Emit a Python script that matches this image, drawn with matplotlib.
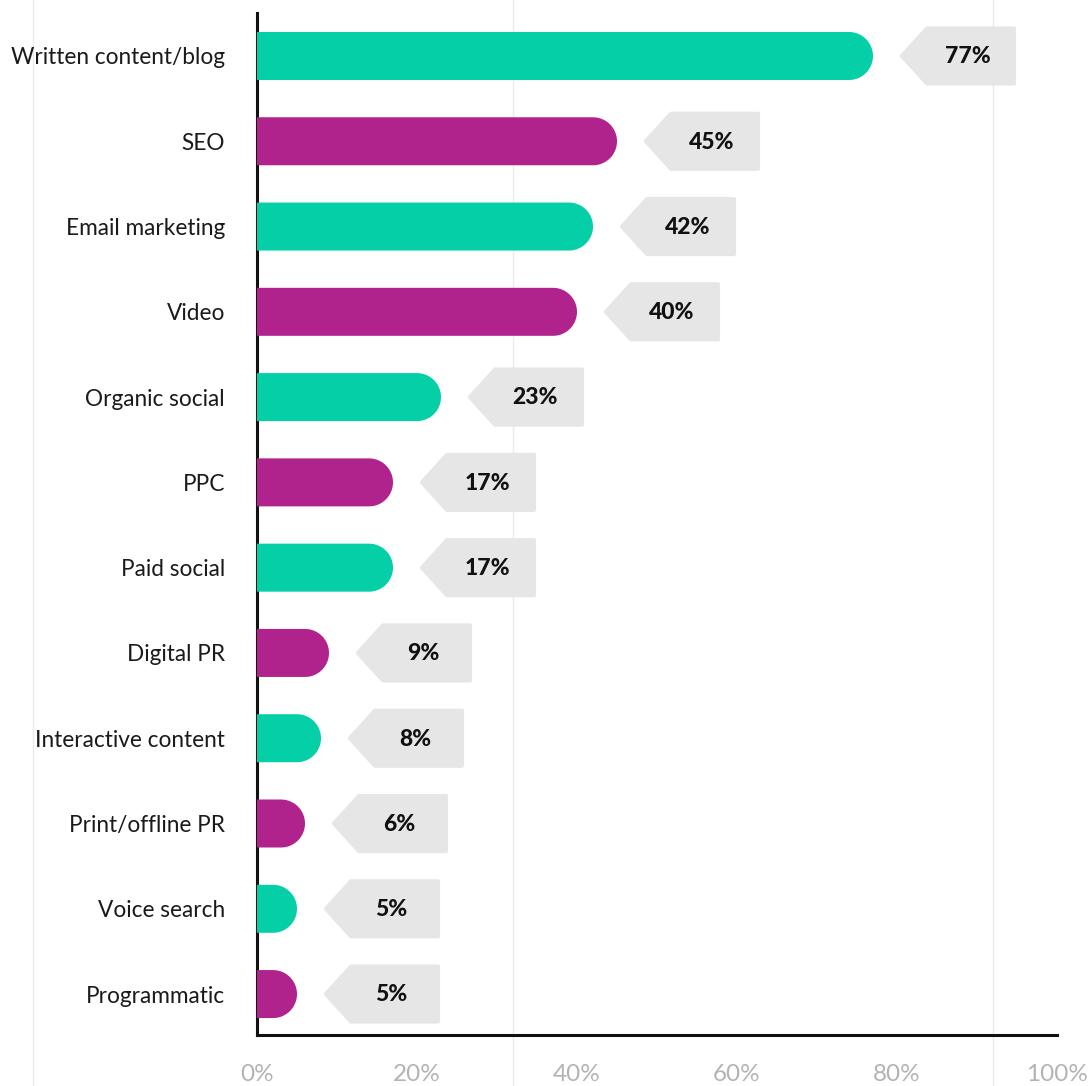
import numpy as np
import matplotlib
matplotlib.use("Agg")
import matplotlib.pyplot as plt
from matplotlib.patches import Polygon

categories = ["Written content/blog", "SEO", "Email marketing", "Video",
              "Organic social", "PPC", "Paid social", "Digital PR",
              "Interactive content", "Print/offline PR", "Voice search",
              "Programmatic"]
values = [77, 45, 42, 40, 23, 17, 17, 9, 8, 6, 5, 5]
tick_values = [0, 20, 40, 60, 80, 100]
tick_labels = ["0%", "20%", "40%", "60%", "80%", "100%"]

TEAL = "#04CFA7"
PURPLE = "#B0238C"
TAG = "#E6E6E6"

W, H = 1092, 1086
fig = plt.figure(figsize=(W / 100, H / 100), dpi=100)
left_px, right_px, top_px, bottom_px = 257, 1057, 13, 1035
ax = fig.add_axes([left_px / W, 1 - bottom_px / H,
                   (right_px - left_px) / W, (bottom_px - top_px) / H])

n = len(categories)
ax.set_xlim(0, 100)
ax.set_ylim(11.48, -0.504)

# pixel -> data unit conversions
px_x = 100 / (right_px - left_px)
px_y = (11.48 + 0.504) / (bottom_px - top_px)

bar_h_px = 48
r_px = bar_h_px / 2
rx, ry = r_px * px_x, r_px * px_y

for i, (cat, v) in enumerate(zip(categories, values)):
    color = TEAL if i % 2 == 0 else PURPLE
    # bar with a rounded right end
    xc = v - rx
    theta = np.linspace(np.pi / 2, -np.pi / 2, 40)
    arc = np.column_stack([xc + rx * np.cos(theta), i - ry * np.sin(theta)])
    pts = np.vstack([[0, i - ry], arc, [0, i + ry]])
    ax.add_patch(Polygon(pts, closed=True, facecolor=color, edgecolor="none", zorder=3))

    # value tag pointing at the bar end
    th = 55 * px_y / 2
    tip = v + 29 * px_x
    shoulder = v + 54 * px_x
    right = v + 141 * px_x
    tag = [[tip, i], [shoulder, i - th], [right, i - th], [right, i + th], [shoulder, i + th]]
    ax.add_patch(Polygon(tag, closed=True, facecolor=TAG, edgecolor=TAG,
                         linewidth=3, joinstyle="round", zorder=3))
    ax.text(v + 11.8, i + 0.01, f"{v}%", ha="center", va="center",
            fontsize=16.5, fontweight="black", family="Lato", color="#111111", zorder=4)

ax.set_yticks(range(n))
ax.set_yticklabels(categories, fontsize=16.3, family="Lato", color="#1a1a1a")
ax.tick_params(axis="y", length=0, pad=23)
ax.set_xticks(tick_values)
ax.set_xticklabels(tick_labels, fontsize=17.5, family="Lato", color="#B3B3B3")
ax.tick_params(axis="x", length=0, pad=21)

for s in ["top", "right"]:
    ax.spines[s].set_visible(False)
for s in ["left", "bottom"]:
    ax.spines[s].set_linewidth(2.2)
    ax.spines[s].set_color("#111111")

# faint background guides spanning the figure height
for gx in [-28, 32, 92]:
    ax.axvline(gx, ymin=-(H - bottom_px) / (bottom_px - top_px),
               ymax=1 + top_px / (bottom_px - top_px),
               color="#EBEBEB", linewidth=1, clip_on=False, zorder=0)

fig.savefig("out.png", dpi=100)
